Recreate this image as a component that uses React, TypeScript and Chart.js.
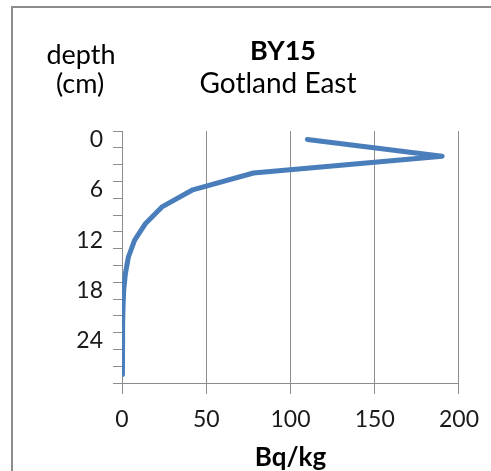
import React, { useEffect, useRef } from "react";
import { Chart, registerables } from "chart.js";

Chart.register(...registerables);

// ---- data ----
const depthsCm = [0, 2, 4, 6, 8, 10, 12, 14, 16, 18, 20, 22, 24, 26, 28];
const activityBqKg = [110, 190, 78, 42, 24, 14, 7.5, 3.8, 2, 1, 0.6, 0.4, 0.3, 0.3, 0.2];
const depthTickLabels = [0, 6, 12, 18, 24];
const activityTickStep = 50;
const titleMain = "BY15";
const titleSub = "Gotland East";
const yTitleLines = ["depth", "(cm)"];
const xTitle = "Bq/kg";

const FONT = 'Lato, "Open Sans", "DejaVu Sans", sans-serif';
const W = 491;
const H = 471;

const overlay = {
  id: "overlay",
  beforeDraw(chart: any) {
    const ctx = chart.ctx;
    ctx.save();
    ctx.fillStyle = "#ffffff";
    ctx.fillRect(0, 0, chart.width, chart.height);
    ctx.fillStyle = "#8c8c8c";
    ctx.fillRect(11, 6, 2, chart.height);
    ctx.fillRect(11, 6, chart.width, 2);
    ctx.restore();
  },
  afterDraw(chart: any) {
    const ctx = chart.ctx;
    ctx.save();
    ctx.fillStyle = "#000000";
    ctx.textAlign = "center";
    ctx.textBaseline = "middle";
    ctx.font = `bold 27px ${FONT}`;
    ctx.fillText(titleMain, 283, 51);
    ctx.font = `28px ${FONT}`;
    ctx.fillText(titleSub, 278, 84);
    ctx.font = `27px ${FONT}`;
    ctx.fillText(yTitleLines[0], 81, 55);
    ctx.fillText(yTitleLines[1], 80, 84);
    ctx.font = `bold 26px ${FONT}`;
    const area = chart.chartArea;
    ctx.fillText(xTitle, (area.left + area.right) / 2, 458);
    ctx.restore();
  },
};

export default function App() {
  const ref = useRef<HTMLCanvasElement | null>(null);

  useEffect(() => {
    if (!ref.current) return;
    const points = depthsCm.map((d, i) => ({ x: activityBqKg[i], y: d }));
    const chart = new Chart(ref.current, {
      type: "scatter",
      data: {
        datasets: [
          {
            data: points,
            showLine: true,
            borderColor: "#4A7EBB",
            backgroundColor: "#4A7EBB",
            borderWidth: 5,
            pointRadius: 0,
            tension: 0,
            borderCapStyle: "round",
            borderJoinStyle: "round",
          },
        ],
      },
      options: {
        responsive: false,
        animation: false,
        devicePixelRatio: 1,
        layout: { padding: { top: 131, right: 23, bottom: 0, left: 0 } },
        plugins: {
          legend: { display: false },
          title: { display: false },
          tooltip: { enabled: false },
        },
        scales: {
          x: {
            type: "linear",
            position: "bottom",
            min: 0,
            max: 200,
            ticks: {
              stepSize: activityTickStep,
              color: "#1a1a1a",
              font: { family: FONT, size: 23 },
              padding: 12,
              maxRotation: 0,
            },
            grid: {
              color: "#8c8c8c",
              lineWidth: 1,
              tickLength: 11,
              tickColor: "#8c8c8c",
            },
            border: { display: true, color: "#8c8c8c", width: 1 },
            afterFit: (scale: any) => {
              scale.height = 88;
            },
          },
          y: {
            type: "linear",
            position: "left",
            reverse: true,
            min: -1,
            max: 29,
            afterBuildTicks: (scale: any) => {
              const t: { value: number }[] = [];
              for (let v = -1; v <= 29; v++) t.push({ value: v });
              scale.ticks = t;
            },
            ticks: {
              autoSkip: false,
              color: "#1a1a1a",
              font: { family: FONT, size: 23 },
              padding: 10,
              callback: (v: any) => (depthTickLabels.includes(Number(v)) ? String(v) : ""),
            },
            grid: {
              drawOnChartArea: false,
              tickLength: 9,
              lineWidth: 1,
              tickColor: (c: any) =>
                Math.abs(Number(c.tick?.value)) % 2 === 1 ? "#8c8c8c" : "rgba(0,0,0,0)",
            },
            border: { display: true, color: "#8c8c8c", width: 1 },
            afterFit: (scale: any) => {
              scale.width = 122;
            },
          },
        },
      },
      plugins: [overlay],
    });
    return () => chart.destroy();
  }, []);

  return (
    <canvas
      ref={ref}
      width={W}
      height={H}
      style={{ position: "fixed", left: 0, top: 0, width: W, height: H, display: "block" }}
    />
  );
}
